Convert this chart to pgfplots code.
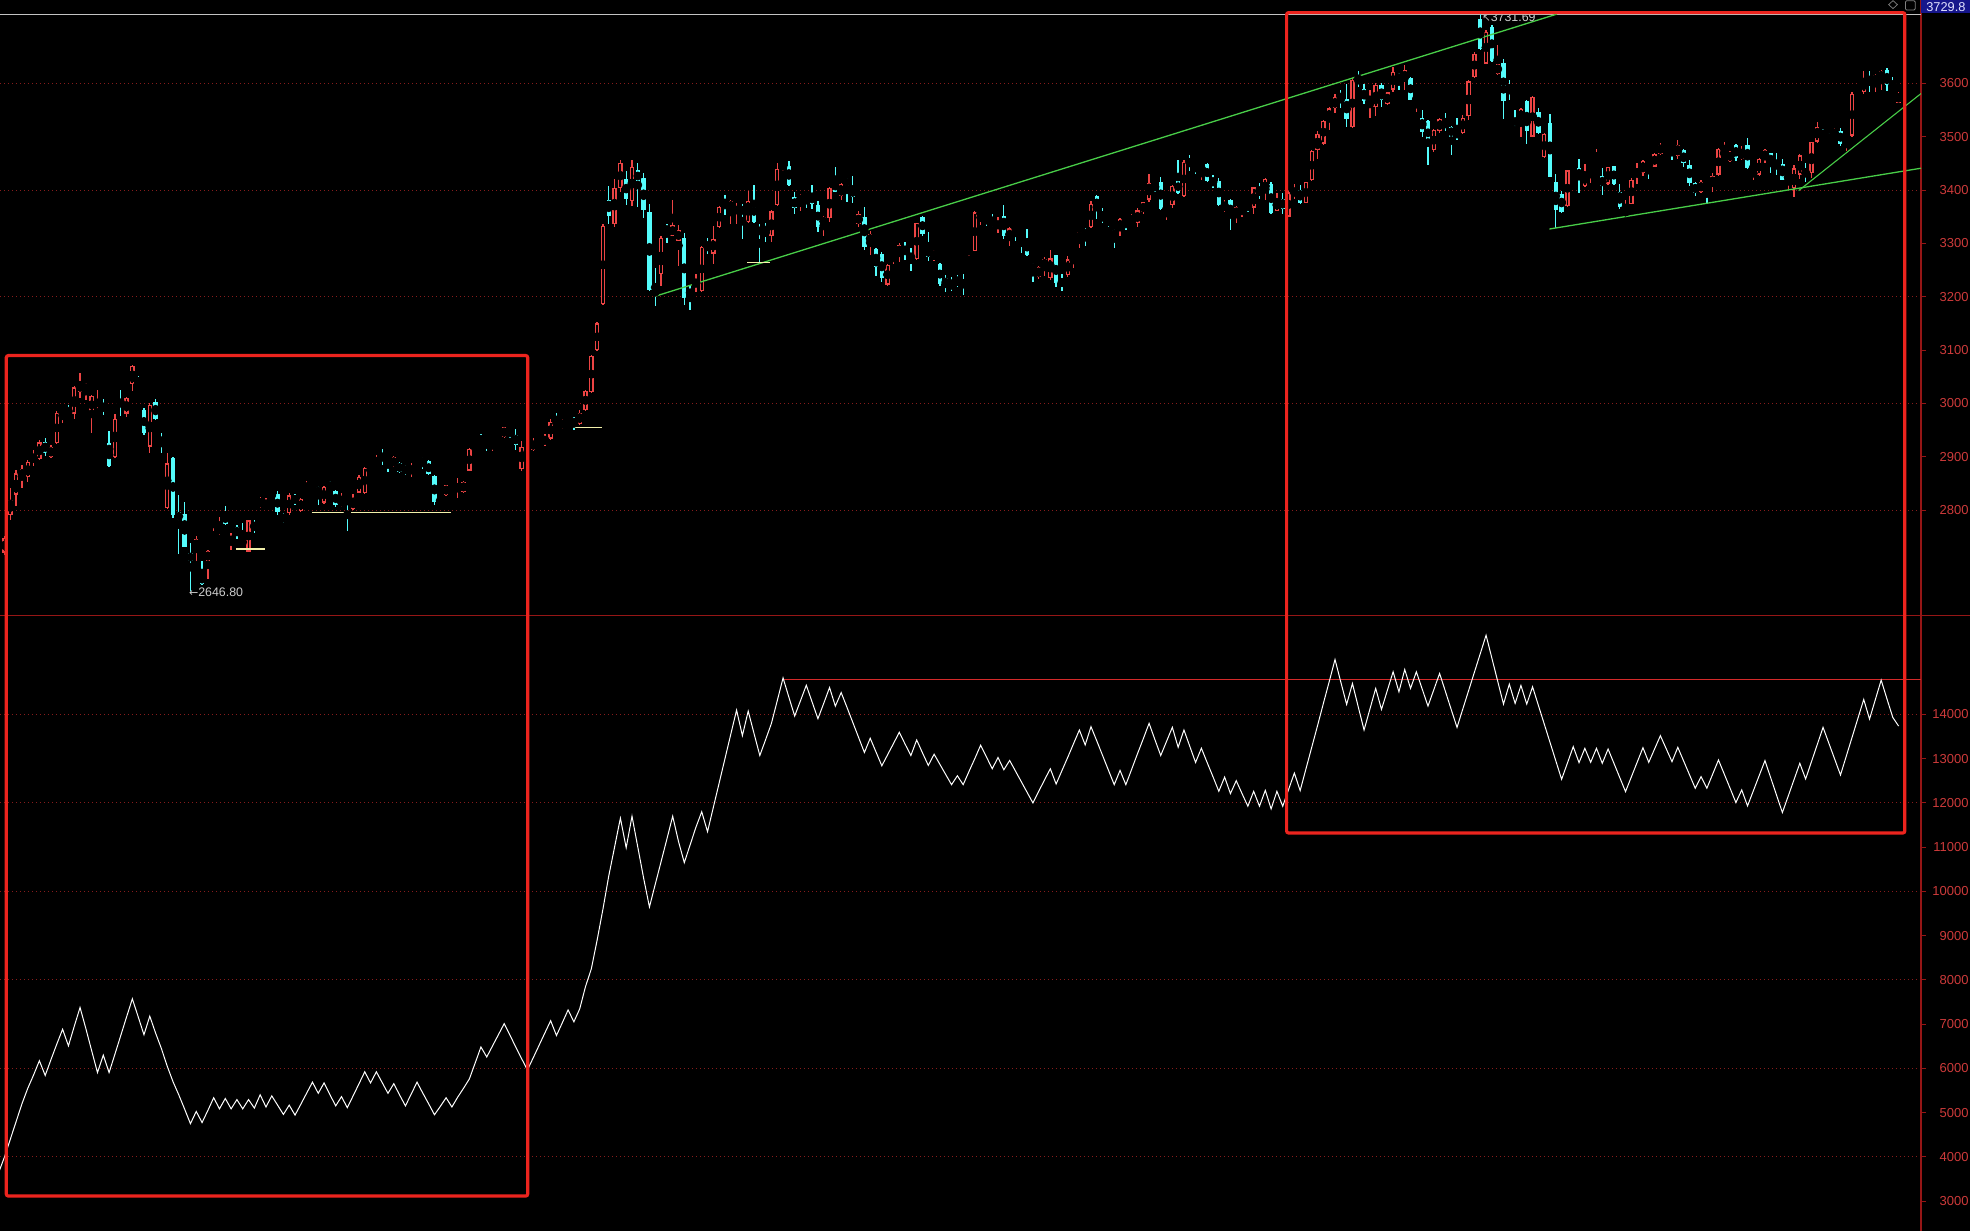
\documentclass[border=0pt]{standalone}
\usepackage{fontspec}
\setmainfont{Liberation Sans}
\newfontfamily\symfont{DejaVu Sans}
\usepackage{pgfplots}
\pgfplotsset{compat=1.18}
\usepackage{pgfplotstable}

\definecolor{candred}{RGB}{236,68,68}
\definecolor{candcyan}{RGB}{84,252,252}
\definecolor{axisred}{RGB}{150,22,22}
\definecolor{labred}{RGB}{205,58,58}
\definecolor{gridc}{RGB}{135,28,28}
\definecolor{annred}{RGB}{236,36,30}
\definecolor{trendgreen}{RGB}{72,205,72}
\definecolor{suppyellow}{RGB}{242,240,170}
\definecolor{hlred}{RGB}{212,42,42}
\definecolor{topgrey}{RGB}{195,195,195}
\definecolor{boxblue}{RGB}{22,22,140}
\definecolor{boxtext}{RGB}{225,225,255}
\definecolor{sepred}{RGB}{150,22,22}
\definecolor{lbgrey}{RGB}{205,205,205}

% ---------- up candles (close > open): i open high low close
\pgfplotstableread{
i o h l c
0 2720 2752 2715 2748
1 2791 2841 2782 2819
2 2829 2875 2807 2869
3 2860 2885 2841 2877
4 2862 2894 2852 2890
5 2894 2913 2883 2900
6 2895 2931 2894 2927
8 2899 2922 2897 2919
9 2925 2985 2924 2983
10 2981 2991 2963 2986
12 2981 3032 2970 3030
13 3022 3057 3011 3039
14 3027 3039 3007 3032
15 2981 3016 2945 3014
16 2977 3026 2976 2988
19 2899 2981 2898 2971
21 2981 3012 2975 3011
22 3036 3072 3024 3071
25 2919 3000 2907 2997
28 2804 2908 2803 2888
33 2727 2751 2704 2746
35 2704 2725 2670 2724
36 2776 2788 2760 2782
37 2760 2788 2754 2766
39 2740 2757 2725 2748
42 2722 2782 2721 2781
44 2806 2824 2804 2821
45 2805 2822 2802 2815
46 2826 2837 2824 2831
49 2794 2832 2791 2828
51 2798 2823 2797 2821
52 2835 2855 2833 2840
53 2841 2854 2839 2852
55 2814 2846 2812 2844
58 2813 2832 2806 2817
60 2802 2830 2801 2822
61 2833 2866 2832 2862
62 2832 2881 2831 2879
64 2882 2903 2880 2897
67 2882 2901 2880 2899
70 2874 2888 2863 2877
71 2897 2900 2889 2899
75 2816 2820 2805 2819
76 2828 2848 2827 2847
78 2838 2860 2822 2847
79 2834 2855 2832 2853
80 2874 2916 2873 2915
81 2915 2925 2911 2922
84 2924 2933 2910 2931
86 2938 2956 2935 2955
89 2877 2930 2874 2919
91 2913 2935 2910 2930
92 2930 2936 2929 2935
93 2925 2942 2920 2937
94 2934 2970 2932 2966
96 2956 2970 2952 2967
97 2968 2980 2966 2977
99 2961 2987 2960 2983
100 2988 3026 2985 3024
101 3021 3091 3019 3089
102 3100 3152 3098 3150
103 3186 3336 3185 3333
105 3336 3421 3330 3404
106 3404 3457 3396 3451
108 3379 3457 3370 3443
113 3242 3313 3221 3311
115 3314 3382 3313 3334
116 3305 3335 3257 3325
119 3223 3243 3209 3228
120 3211 3296 3208 3294
122 3281 3333 3261 3309
123 3330 3370 3328 3368
125 3363 3382 3336 3379
126 3381 3389 3336 3388
128 3340 3399 3338 3380
132 3314 3362 3303 3360
133 3372 3450 3371 3440
134 3443 3454 3435 3451
137 3382 3393 3360 3384
141 3333 3352 3314 3350
142 3347 3405 3341 3404
144 3389 3413 3382 3412
147 3336 3360 3330 3355
149 3300 3324 3279 3318
152 3223 3262 3221 3260
153 3275 3284 3262 3280
154 3278 3300 3265 3297
157 3270 3339 3269 3338
160 3278 3287 3267 3280
166 3262 3278 3261 3272
167 3286 3360 3285 3358
168 3352 3362 3335 3360
171 3334 3349 3320 3336
173 3306 3330 3295 3328
178 3238 3257 3234 3255
179 3255 3274 3238 3270
180 3235 3287 3231 3272
183 3240 3276 3238 3270
184 3274 3284 3254 3278
185 3306 3322 3292 3321
187 3330 3379 3329 3374
192 3324 3347 3314 3346
194 3336 3356 3335 3347
195 3339 3366 3331 3362
196 3358 3378 3356 3377
197 3382 3430 3378 3414
200 3359 3370 3344 3369
201 3372 3409 3366 3408
203 3388 3456 3387 3453
206 3436 3446 3418 3445
210 3364 3382 3359 3374
212 3349 3371 3339 3369
213 3366 3372 3350 3369
215 3367 3406 3356 3405
217 3394 3422 3381 3421
219 3361 3394 3360 3383
221 3350 3398 3349 3396
222 3395 3411 3383 3397
224 3376 3416 3375 3415
225 3419 3476 3417 3474
226 3475 3511 3459 3505
227 3487 3532 3485 3530
228 3530 3556 3513 3553
229 3553 3581 3544 3575
232 3518 3611 3516 3607
235 3568 3588 3535 3570
236 3555 3600 3538 3597
238 3561 3584 3560 3583
239 3588 3631 3584 3622
241 3605 3634 3588 3625
243 3567 3575 3547 3574
246 3475 3514 3472 3513
247 3510 3536 3507 3533
251 3507 3541 3505 3536
252 3538 3606 3531 3604
253 3612 3659 3611 3656
255 3637 3700 3636 3697
257 3617 3672 3616 3637
261 3530 3553 3500 3552
263 3500 3576 3499 3575
265 3462 3507 3460 3505
269 3370 3438 3369 3437
270 3447 3454 3444 3452
272 3407 3449 3406 3433
273 3435 3447 3413 3446
274 3450 3477 3449 3464
276 3412 3444 3410 3443
279 3354 3382 3351 3364
280 3374 3422 3373 3419
281 3429 3450 3412 3437
282 3432 3457 3426 3455
284 3444 3469 3443 3468
285 3468 3488 3466 3485
288 3463 3494 3458 3484
292 3396 3419 3394 3416
294 3407 3432 3396 3427
295 3429 3479 3427 3477
296 3466 3491 3463 3472
297 3455 3474 3452 3472
299 3458 3482 3457 3475
301 3441 3444 3419 3443
302 3429 3460 3427 3458
303 3457 3477 3450 3475
307 3419 3431 3402 3429
308 3404 3447 3387 3441
309 3429 3467 3421 3465
311 3432 3491 3422 3490
312 3491 3528 3489 3519
315 3500 3517 3498 3508
317 3487 3499 3474 3497
318 3502 3583 3500 3581
319 3586 3597 3584 3593
320 3583 3624 3581 3609
322 3600 3617 3584 3616
323 3606 3625 3588 3624
326 3564 3584 3563 3581
}\upT

% ---------- down candles (close < open)
\pgfplotstableread{
i o h l c
7 2928 2935 2902 2907
11 2980 2998 2973 2975
17 2994 3009 2978 2991
18 2925 2949 2880 2882
20 3007 3026 2976 2994
23 3040 3052 3031 3035
24 2988 2991 2941 2944
26 3002 3009 2969 2970
27 2936 2944 2908 2924
29 2898 2900 2785 2791
30 2796 2829 2717 2781
31 2793 2816 2730 2731
32 2720 2738 2648 2704
34 2679 2704 2660 2662
38 2794 2807 2773 2774
40 2768 2773 2745 2753
41 2745 2776 2733 2735
43 2774 2782 2757 2766
47 2830 2835 2791 2796
48 2786 2794 2776 2784
50 2827 2831 2810 2813
54 2844 2846 2810 2829
56 2850 2855 2837 2841
57 2836 2837 2806 2809
59 2821 2823 2760 2813
63 2878 2883 2867 2872
65 2902 2915 2885 2896
66 2898 2899 2872 2896
68 2888 2890 2870 2872
69 2880 2885 2866 2871
72 2897 2899 2878 2887
73 2892 2894 2865 2867
74 2864 2865 2810 2816
77 2847 2849 2835 2839
82 2931 2942 2924 2925
83 2933 2935 2911 2921
85 2943 2950 2938 2941
87 2951 2953 2936 2945
88 2940 2953 2913 2923
90 2909 2910 2891 2907
95 2966 2982 2956 2960
98 2972 2975 2950 2958
104 3382 3408 3336 3352
107 3420 3435 3372 3384
109 3437 3451 3368 3416
110 3423 3432 3347 3363
111 3358 3374 3211 3212
112 3214 3253 3182 3203
114 3330 3336 3301 3322
117 3311 3319 3185 3198
118 3210 3221 3175 3205
121 3300 3311 3281 3287
124 3378 3391 3353 3374
127 3369 3374 3309 3355
129 3379 3410 3338 3341
130 3326 3336 3264 3321
131 3328 3338 3303 3322
135 3446 3455 3407 3409
136 3387 3396 3355 3366
138 3391 3396 3366 3386
139 3393 3410 3365 3374
140 3372 3380 3322 3331
143 3418 3443 3396 3397
145 3421 3423 3378 3408
146 3404 3427 3375 3387
148 3349 3369 3287 3294
150 3289 3292 3238 3256
151 3281 3284 3228 3236
155 3292 3303 3269 3284
156 3278 3291 3248 3272
158 3349 3352 3314 3318
159 3291 3322 3267 3275
161 3262 3264 3221 3223
162 3235 3240 3209 3220
163 3225 3238 3211 3218
164 3232 3241 3219 3225
165 3232 3243 3204 3218
169 3353 3354 3333 3342
170 3344 3355 3330 3333
172 3352 3372 3308 3314
174 3333 3335 3305 3325
175 3316 3321 3282 3314
176 3308 3327 3277 3278
177 3258 3264 3228 3253
181 3278 3279 3219 3225
182 3228 3242 3211 3226
186 3326 3328 3295 3313
188 3389 3390 3346 3363
189 3355 3366 3339 3343
190 3346 3350 3331 3339
191 3326 3327 3292 3311
193 3347 3348 3325 3340
198 3408 3414 3397 3405
199 3416 3424 3362 3364
202 3419 3456 3393 3394
204 3454 3466 3436 3450
205 3449 3452 3431 3444
207 3448 3450 3416 3417
208 3419 3428 3404 3411
209 3417 3422 3371 3372
211 3381 3383 3326 3348
214 3374 3379 3358 3371
216 3400 3414 3384 3395
218 3411 3416 3356 3357
220 3383 3394 3356 3364
223 3401 3410 3374 3376
230 3578 3588 3553 3571
231 3571 3599 3519 3533
233 3612 3624 3593 3600
234 3589 3599 3561 3567
237 3597 3600 3556 3568
240 3616 3619 3588 3606
242 3611 3612 3568 3569
244 3536 3550 3500 3508
245 3530 3531 3447 3485
248 3530 3544 3510 3518
249 3519 3520 3466 3500
250 3511 3535 3494 3499
254 3720 3732 3662 3665
256 3706 3709 3640 3642
258 3639 3645 3533 3567
259 3595 3606 3569 3586
260 3515 3550 3507 3510
262 3567 3569 3487 3510
264 3547 3553 3505 3507
266 3525 3542 3424 3425
267 3416 3431 3329 3362
268 3393 3398 3357 3359
271 3441 3458 3394 3422
275 3426 3441 3390 3407
277 3445 3446 3410 3412
278 3396 3411 3365 3369
283 3452 3454 3421 3441
286 3492 3494 3479 3482
287 3484 3485 3457 3482
289 3475 3477 3444 3450
290 3447 3457 3408 3414
291 3413 3416 3389 3394
293 3410 3411 3376 3399
298 3485 3487 3455 3460
300 3485 3498 3440 3442
304 3469 3470 3432 3447
305 3449 3470 3429 3444
306 3449 3458 3418 3419
310 3434 3450 3416 3429
313 3528 3530 3513 3519
314 3520 3522 3505 3508
316 3511 3517 3482 3487
321 3612 3624 3583 3601
324 3626 3628 3586 3597
325 3595 3612 3584 3586
}\dnT

% ---------- lower line
\pgfplotstableread{
i v
-1 3650
0 4000
1 4400
2 4800
3 5200
4 5550
5 5850
6 6174
7 5840
8 6200
9 6550
10 6885
11 6510
12 6950
13 7377
14 6900
15 6400
16 5906
17 6300
18 5906
19 6320
20 6740
21 7160
22 7572
23 7170
24 6760
25 7180
26 6800
27 6450
28 6050
29 5700
30 5400
31 5080
32 4751
33 5027
34 4776
35 5050
36 5337
37 5086
38 5320
39 5086
40 5295
41 5086
42 5295
43 5103
44 5404
45 5128
46 5379
47 5170
48 4960
49 5170
50 4944
51 5190
52 5440
53 5689
54 5437
55 5672
56 5410
57 5153
58 5362
59 5111
60 5380
61 5650
62 5923
63 5672
64 5923
65 5680
66 5437
67 5655
68 5400
69 5153
70 5420
71 5689
72 5440
73 5200
74 4952
75 5140
76 5337
77 5128
78 5350
79 5550
80 5760
81 6120
82 6484
83 6258
84 6510
85 6760
86 7011
87 6750
88 6480
89 6220
90 5965
91 6240
92 6520
93 6800
94 7078
95 6743
96 7030
97 7321
98 7053
99 7346
100 7850
101 8250
102 8900
103 9600
104 10350
105 11000
106 11656
107 10987
108 11700
109 11000
110 10300
111 9648
112 10160
113 10670
114 11180
115 11700
116 11130
117 10650
118 11050
119 11450
120 11800
121 11350
122 11900
123 12450
124 13000
125 13550
126 14097
127 13521
128 14075
129 13570
130 13071
131 13430
132 13798
133 14310
134 14824
135 14390
136 13963
137 14310
138 14659
139 14280
140 13903
141 14250
142 14607
143 14187
144 14494
145 14160
146 13820
147 13480
148 13139
149 13461
150 13150
151 12839
152 13090
153 13340
154 13596
155 13330
156 13071
157 13423
158 13130
159 12847
160 13101
161 12870
162 12640
163 12412
164 12614
165 12412
166 12710
167 13000
168 13303
169 13040
170 12772
171 13026
172 12749
173 12959
174 12720
175 12480
176 12240
177 12000
178 12260
179 12520
180 12772
181 12427
182 12730
183 13030
184 13340
185 13648
186 13311
187 13723
188 13400
189 13070
190 12740
191 12412
192 12734
193 12412
194 12760
195 13110
196 13450
197 13798
198 13430
199 13071
200 13390
201 13708
202 13258
203 13648
204 13280
205 12914
206 13236
207 12910
208 12590
209 12262
210 12584
211 12210
212 12502
213 12210
214 11925
215 12262
216 11925
217 12284
218 11865
219 12262
220 11925
221 12300
222 12674
223 12278
224 12770
225 13260
226 13750
227 14250
228 14740
229 15241
230 14730
231 14226
232 14699
233 14170
234 13647
235 14117
236 14587
237 14113
238 14540
239 14963
240 14511
241 15015
242 14587
243 14963
244 14575
245 14188
246 14556
247 14925
248 14520
249 14110
250 13707
251 14124
252 14540
253 14957
254 15373
255 15790
256 15270
257 14750
258 14233
259 14684
260 14248
261 14654
262 14233
263 14624
264 14206
265 13788
266 13370
267 12952
268 12534
269 12900
270 13271
271 12910
272 13233
273 12917
274 13233
275 12895
276 13218
277 12897
278 12576
279 12255
280 12586
281 12917
282 13248
283 12917
284 13218
285 13519
286 13225
287 12932
288 13256
289 12948
290 12640
291 12331
292 12594
293 12331
294 12650
295 12970
296 12650
297 12330
298 12007
299 12293
300 11932
301 12273
302 12614
303 12955
304 12564
305 12173
306 11782
307 12153
308 12524
309 12895
310 12541
311 12930
312 13318
313 13707
314 13348
315 12990
316 12631
317 13058
318 13485
319 13912
320 14338
321 13895
322 14335
323 14775
324 14350
325 13932
326 13737
}\obvT

\pgfplotsset{
  panel/.style={
    scale only axis, width=960.5pt, height=307.75pt,
    xmin=-0.778, xmax=329.86,
    axis x line=none, axis y line*=right,
    axis line style={draw=axisred, line width=0.6pt},
    tick align=outside, major tick length=2.5pt,
    major tick style={draw=axisred, line width=0.5pt},
    minor tick num=0,
    scaled y ticks=false,
    yticklabel style={font=\fontsize{6.5}{7}\selectfont, text=labred, anchor=east, inner sep=0pt, xshift=21.5pt,
      /pgf/number format/1000 sep={}, /pgf/number format/assume math mode=true},
    clip=true,
  },
  gridline/.style={gridc, line width=0.5pt, dash pattern=on 0.5pt off 1.5pt, forget plot},
}

\begin{document}
\begin{tikzpicture}
\path[use as bounding box] (0pt,0pt) rectangle (985pt,-615.5pt);
\fill[black] (0pt,0pt) rectangle (985pt,-615.5pt);

% ================= upper panel: candles =================
\begin{axis}[panel, at={(0pt,0pt)}, anchor=north west,
  ymin=2602.4, ymax=3756.4, ytick={2800,2900,...,3600}]
\pgfplotsinvokeforeach{2800,3000,3200,3400,3600}{
  \addplot[gridline] coordinates {(-0.778,#1) (329.86,#1)};
}
\addplot[topgrey, line width=0.5pt, forget plot] coordinates {(-0.778,3730.1) (329.86,3730.1)};

% up candles: wick, body, hollow interior
\addplot[only marks, mark=none, forget plot,
  error bars/.cd, y dir=both, y explicit, error mark=none,
  error bar style={draw=candred, line width=0.65pt}]
  table[x=i, y expr={(\thisrow{h}+\thisrow{l})/2},
        y error plus expr={(\thisrow{h}-\thisrow{l})/2},
        y error minus expr={(\thisrow{h}-\thisrow{l})/2}] {\upT};
\addplot[only marks, mark=none, forget plot,
  error bars/.cd, y dir=both, y explicit, error mark=none,
  error bar style={draw=candred, line width=2.2pt}]
  table[x=i, y expr={(\thisrow{o}+\thisrow{c})/2},
        y error plus expr={(\thisrow{c}-\thisrow{o})/2},
        y error minus expr={(\thisrow{c}-\thisrow{o})/2}] {\upT};
\addplot[only marks, mark=none, forget plot,
  error bars/.cd, y dir=both, y explicit, error mark=none,
  error bar style={draw=black, line width=0.9pt}]
  table[x=i, y expr={(\thisrow{o}+\thisrow{c})/2},
        y error plus expr={max((\thisrow{c}-\thisrow{o})/2-2.5,0)},
        y error minus expr={max((\thisrow{c}-\thisrow{o})/2-2.5,0)}] {\upT};
% down candles: wick, filled body
\addplot[only marks, mark=none, forget plot,
  error bars/.cd, y dir=both, y explicit, error mark=none,
  error bar style={draw=candcyan, line width=0.65pt}]
  table[x=i, y expr={(\thisrow{h}+\thisrow{l})/2},
        y error plus expr={(\thisrow{h}-\thisrow{l})/2},
        y error minus expr={(\thisrow{h}-\thisrow{l})/2}] {\dnT};
\addplot[only marks, mark=none, forget plot,
  error bars/.cd, y dir=both, y explicit, error mark=none,
  error bar style={draw=candcyan, line width=2.2pt}]
  table[x=i, y expr={(\thisrow{o}+\thisrow{c})/2},
        y error plus expr={(\thisrow{o}-\thisrow{c})/2},
        y error minus expr={(\thisrow{o}-\thisrow{c})/2}] {\dnT};

% trend lines
\addplot[trendgreen, line width=0.65pt, forget plot] coordinates {(112,3201) (267.2,3730)};
\addplot[trendgreen, line width=0.65pt, forget plot] coordinates {(265.9,3327) (329.86,3441)};
\addplot[trendgreen, line width=0.55pt, forget plot] coordinates {(308.8,3399) (329.86,3581)};
% support marks
\addplot[suppyellow, line width=0.6pt, forget plot] coordinates {(39.8,2727) (44.8,2727)};
\addplot[suppyellow, line width=0.6pt, forget plot] coordinates {(52.9,2796) (76.9,2796)};
\addplot[suppyellow, line width=0.6pt, forget plot] coordinates {(97.9,2955) (102.8,2955)};
\addplot[suppyellow, line width=0.6pt, forget plot] coordinates {(127.8,3264) (131.8,3264)};

\node[anchor=west, inner sep=0pt, text=lbgrey, font=\fontsize{6.2}{6.2}\selectfont]
  at (axis cs:31.7,2646.8) {{\symfont\fontsize{5.5}{5.5}\selectfont ←}2646.80};
\node[anchor=west, inner sep=0pt, text=lbgrey, font=\fontsize{6.2}{6.2}\selectfont]
  at (axis cs:254.3,3723.5) {{\symfont\fontsize{5}{5}\selectfont ↖}3731.69};

\coordinate (LT) at (axis cs:0.31,3089.7);
\coordinate (RT) at (axis cs:220.67,3732.7);
\end{axis}

% ================= lower panel: line =================
\begin{axis}[panel, at={(0pt,-307.75pt)}, anchor=north west,
  ymin=2325, ymax=16235, ytick={3000,4000,...,14000}]
\pgfplotsinvokeforeach{4000,6000,8000,10000,12000,14000}{
  \addplot[gridline] coordinates {(-0.778,#1) (329.86,#1)};
}
\addplot[hlred, line width=0.5pt, forget plot] coordinates {(134,14795) (329.86,14795)};
\addplot[white, line width=0.5pt, forget plot] table[x=i, y=v] {\obvT};
\coordinate (LB) at (axis cs:90.05,3116);
\coordinate (RB) at (axis cs:327.07,11320);
\end{axis}

% panel separator
\draw[sepred, line width=0.6pt] (0pt,-307.75pt) -- (985pt,-307.75pt);

% annotation boxes
\draw[annred, line width=1.6pt, rounded corners=1pt] (LT) rectangle (LB);
\draw[annred, line width=1.6pt, rounded corners=1pt] (RT) rectangle (RB);

% top-right price box and icons
\node[anchor=north west, fill=boxblue, inner sep=0pt, minimum width=24.5pt, minimum height=6.4pt,
  text=boxtext, font=\fontsize{6.4}{6.4}\selectfont] at (960.5pt,0pt) {3729.8};
\draw[gray, line width=0.35pt] (946.5pt,-0.3pt) -- (948.7pt,-2.3pt) -- (946.5pt,-4.3pt) -- (944.3pt,-2.3pt) -- cycle;
\draw[gray, line width=0.4pt, rounded corners=0.6pt] (952.7pt,-0.4pt) rectangle (957.6pt,-5pt);
\end{tikzpicture}
\end{document}
